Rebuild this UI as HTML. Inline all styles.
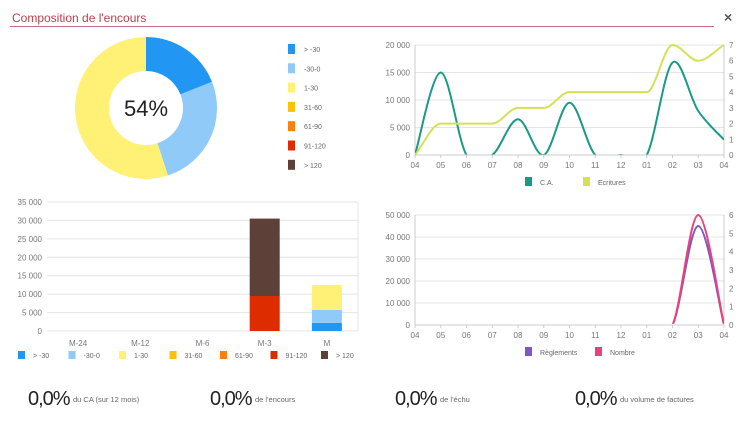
<!DOCTYPE html>
<html><head><meta charset="utf-8"><style>
body{margin:0;background:#fff;width:750px;height:422px;overflow:hidden;font-family:"Liberation Sans",sans-serif}
svg{position:absolute;left:0;top:0}
</style></head><body>
<svg id="s" width="750" height="422" xmlns="http://www.w3.org/2000/svg" font-family="Liberation Sans, sans-serif">
<text x="12" y="22" font-size="12" fill="#b8404c">Composition de l'encours</text>
<line x1="10" y1="26.5" x2="714" y2="26.5" stroke="#c07080" stroke-width="1"/>
<text x="724" y="22" font-size="14" font-weight="bold" fill="#555">×</text>
<g id="donut"></g>
<g id="dleg"></g>
<g id="ca"></g>
<g id="bar"></g>
<g id="reg"></g>
<g id="stats"></g>
</svg>
<script>
const NS="http://www.w3.org/2000/svg";
const bucketLabels=["> -30","-30-0","1-30","31-60","61-90","91-120","> 120"];
const bucketColors=["#2196f3","#90caf9","#fff176","#ffc107","#ff7f0e","#dd2c00","#5d4037"];
const donutValues=[19,26,55,0,0,0,0];
const donutCenterLabel="54%";
const months=["04","05","06","07","08","09","10","11","12","01","02","03","04"];
const caValues=[0,15000,0,0,6500,0,9500,0,0,0,16800,8000,2800];
const ecrituresValues=[0,2,2,2,3,3,4,4,4,4,7,6,7];
const caTicks=[0,5000,10000,15000,20000];
const ecrTicks=[0,1,2,3,4,5,6,7];
const barCategories=["M-24","M-12","M-6","M-3","M"];
const barSeries=[
 [0,0,0,0,2200],
 [0,0,0,0,3500],
 [0,0,0,0,6800],
 [0,0,0,0,0],
 [0,0,0,0,0],
 [0,0,0,9500,0],
 [0,0,0,21000,0]];
const barTicks=[0,5000,10000,15000,20000,25000,30000,35000];
const reglementsValues=[0,0,0,0,0,0,0,0,0,0,0,45000,0];
const nombreValues=[0,0,0,0,0,0,0,0,0,0,0,6,0];
const regTicks=[0,10000,20000,30000,40000,50000];
const nbTicks=[0,1,2,3,4,5,6];
const statValues=["0,0%","0,0%","0,0%","0,0%"];
const statLabels=["du CA (sur 12 mois)","de l'encours","de l'échu","du volume de factures"];

function el(tag,attrs,parent,text){const e=document.createElementNS(NS,tag);for(const k in attrs)e.setAttribute(k,attrs[k]);if(text!==undefined)e.textContent=text;parent.appendChild(e);return e;}
function fmt(v){return String(v).replace(/\B(?=(\d{3})+(?!\d))/g," ");}
function spline(pts){let d="M"+pts[0][0]+","+pts[0][1];for(let i=0;i<pts.length-1;i++){const p0=pts[i-1]||pts[i],p1=pts[i],p2=pts[i+1],p3=pts[i+2]||p2;const c1=[p1[0]+(p2[0]-p0[0])/6,p1[1]+(p2[1]-p0[1])/6],c2=[p2[0]-(p3[0]-p1[0])/6,p2[1]-(p3[1]-p1[1])/6];d+=`C${c1[0]},${c1[1]} ${c2[0]},${c2[1]} ${p2[0]},${p2[1]}`;}return d;}
function monotone(pts){const n=pts.length;const dx=[],m=[],t=[];for(let i=0;i<n-1;i++){dx[i]=pts[i+1][0]-pts[i][0];m[i]=(pts[i+1][1]-pts[i][1])/dx[i];}
t[0]=m[0];t[n-1]=m[n-2];for(let i=1;i<n-1;i++)t[i]=(m[i-1]*m[i]<=0)?0:(m[i-1]+m[i])/2;
for(let i=0;i<n-1;i++){if(m[i]===0){t[i]=0;t[i+1]=0;continue;}const a=t[i]/m[i],b=t[i+1]/m[i],s=a*a+b*b;if(s>9){const k=3/Math.sqrt(s);t[i]=k*a*m[i];t[i+1]=k*b*m[i];}}
let d="M"+pts[0][0]+","+pts[0][1];for(let i=0;i<n-1;i++){const h=dx[i]/3;d+=`C${pts[i][0]+h},${pts[i][1]+h*t[i]} ${pts[i+1][0]-h},${pts[i+1][1]-h*t[i+1]} ${pts[i+1][0]},${pts[i+1][1]}`;}return d;}

// Donut
(function(){const g=document.getElementById('donut');const cx=146,cy=108,R=71,r=37;const tot=donutValues.reduce((a,b)=>a+b,0);let a=0;
donutValues.forEach((v,i)=>{if(!v)return;const a0=a,a1=a+v/tot*2*Math.PI;a=a1;const p=(ang,rr)=>[cx+rr*Math.sin(ang),cy-rr*Math.cos(ang)];const lg=a1-a0>Math.PI?1:0;
const [x0,y0]=p(a0,R),[x1,y1]=p(a1,R),[x2,y2]=p(a1,r),[x3,y3]=p(a0,r);
const s=el('path',{d:`M${x0},${y0}A${R},${R} 0 ${lg} 1 ${x1},${y1}L${x2},${y2}A${r},${r} 0 ${lg} 0 ${x3},${y3}Z`,fill:bucketColors[i]},g);

});
el('text',{x:cx,y:cy+8,'font-size':22,'text-anchor':'middle',fill:'#222'},g,donutCenterLabel);
const lg=document.getElementById('dleg');bucketLabels.forEach((l,i)=>{const y=44+i*19.3;const r=el('rect',{x:288,y:y,width:7,height:10,fill:bucketColors[i]},lg);


el('text',{x:304,y:y+8,'font-size':7,fill:'#666'},lg,l);});})();

function lineChart(gid,x0,x1,ytop,ybot,lt,rt,series,legend,legX,hideZero){
 const g=document.getElementById(gid);const lmax=lt[lt.length-1],rmax=rt[rt.length-1];
 const xs=i=>x0+i*(x1-x0)/(months.length-1);const yl=v=>ybot-v/lmax*(ybot-ytop),yr=v=>ybot-v/rmax*(ybot-ytop);
 lt.forEach(t=>{el('line',{x1:x0,x2:x1,y1:yl(t),y2:yl(t),stroke:'#e4e4e4'},g);el('text',{x:x0-5,y:yl(t)+3,'font-size':8,'text-anchor':'end',fill:'#777'},g,fmt(t));});
 rt.forEach(t=>el('text',{x:x1+5,y:yr(t)+3,'font-size':8,fill:'#777'},g,t));
 el('line',{x1:x0,x2:x0,y1:ytop,y2:ybot,stroke:'#ccc'},g);el('line',{x1:x1,x2:x1,y1:ytop,y2:ybot,stroke:'#ccc'},g);
 months.forEach((m,i)=>{el('line',{x1:xs(i),x2:xs(i),y1:ybot,y2:ybot+3,stroke:'#ccc'},g);el('text',{x:xs(i),y:ybot+13,'font-size':8,'text-anchor':'middle',fill:'#777'},g,m);});
 const cid=gid+'clip';const cp=el('clipPath',{id:cid},g);el('rect',{x:x0,y:ytop-4,width:x1-x0,height:ybot-ytop+4-(hideZero?1.2:0)},cp);
 series.forEach(s=>{const sc=s.right?yr:yl;const pts=s.v.map((v,i)=>[xs(i),sc(v)]);const p=el('path',{d:s.mono?monotone(pts):spline(pts),fill:'none',stroke:s.c,'stroke-width':2,'clip-path':`url(#${cid})`},g);
 
 });
 el('line',{x1:x0,x2:x1,y1:ybot,y2:ybot,stroke:'#ccc'},g);
 legend.forEach((s,i)=>{const lx=legX[i];el('rect',{x:lx,y:ybot+22,width:7,height:9,fill:s.c},g);el('text',{x:lx+15,y:ybot+30,'font-size':7,fill:'#666'},g,s.label);});
}
lineChart('ca',415,724,45,155,caTicks,ecrTicks,[{v:caValues,c:'#1a9a86',name:'ca'},{v:ecrituresValues,c:'#d4e157',right:true,mono:true,name:'ecritures'}],[{c:'#1a9a86',label:'C.A.'},{c:'#d4e157',label:'Ecritures'}],[525,583],false);
lineChart('reg',415,724,215,325,regTicks,nbTicks,[{v:reglementsValues,c:'#7e57c2',name:'reglements'},{v:nombreValues,c:'#ec407a',right:true,name:'nombre'}],[{c:'#7e57c2',label:'Règlements'},{c:'#ec407a',label:'Nombre'}],[525,595],true);

// Bar chart
(function(){const g=document.getElementById('bar');const x0=47,x1=358,ytop=202,ybot=331;const max=barTicks[barTicks.length-1];const y=v=>ybot-v/max*(ybot-ytop);const band=(x1-x0)/barCategories.length;
barTicks.forEach(t=>{el('line',{x1:x0,x2:x1,y1:y(t),y2:y(t),stroke:'#e4e4e4'},g);el('text',{x:x0-5,y:y(t)+3,'font-size':8,'text-anchor':'end',fill:'#777'},g,fmt(t));});
el('line',{x1:x1,x2:x1,y1:ytop,y2:ybot,stroke:'#e4e4e4'},g);
barCategories.forEach((c,i)=>{const cx=x0+band*(i+0.5);el('text',{x:cx,y:ybot+15,'font-size':8,'text-anchor':'middle',fill:'#777'},g,c);let acc=0;
barSeries.forEach((s,k)=>{const v=s[i];if(!v)return;const r=el('rect',{x:cx-15,y:y(acc+v),width:30,height:y(acc)-y(acc+v),fill:bucketColors[k]},g);acc+=v;

});});
bucketLabels.forEach((l,i)=>{const lx=18+i*50.5;el('rect',{x:lx,y:351,width:7,height:8,fill:bucketColors[i]},g);el('text',{x:lx+15,y:358,'font-size':7,fill:'#666'},g,l);});})();

// Stats
(function(){const g=document.getElementById('stats');const xs=[28,210,395,575];statValues.forEach((v,i)=>{const t=el('text',{x:xs[i],y:405,'font-size':20,fill:'#222','letter-spacing':'-1'},g,v);


el('text',{x:xs[i]+45,y:402,'font-size':7.5,fill:'#666'},g,statLabels[i]);});})();
</script>
</body></html>
